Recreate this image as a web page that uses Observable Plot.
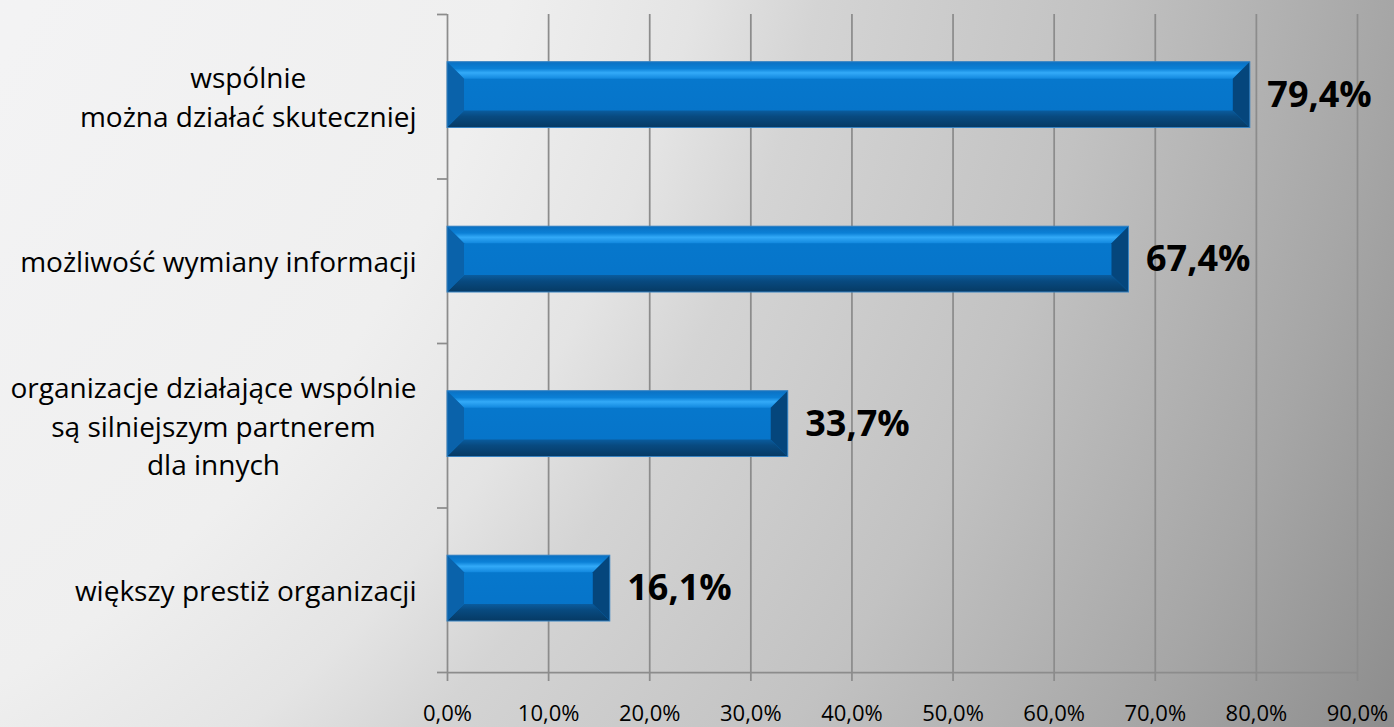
<!DOCTYPE html>
<html>
<head>
<meta charset="utf-8">
<script src="https://cdn.jsdelivr.net/npm/d3@7"></script>
<script src="https://cdn.jsdelivr.net/npm/@observablehq/plot@0.6"></script>
<style>
  html, body { margin: 0; padding: 0; overflow: hidden; }
  body {
    width: 1394px; height: 727px;
    background: radial-gradient(circle at -600px -300px, #f4f4f6 0px, #f3f3f4 700px, #efefef 1150px, #e4e4e4 1330px, #d4d4d4 1450px, #c2c2c2 1730px, #a6a6a6 2016px, #8c8c8c 2250px);
  }
  #chart svg { display: block; }
</style>
</head>
<body>
<div id="chart"></div>
<script>
const categories = [
  "wspólnie\nmożna działać skuteczniej",
  "możliwość wymiany informacji",
  "organizacje działające wspólnie\nsą silniejszym partnerem\ndla innych",
  "większy prestiż organizacji"
];
const values = [79.4, 67.4, 33.7, 16.1];
const xTicks = [0, 10, 20, 30, 40, 50, 60, 70, 80, 90];
const xTickLabels = ["0,0%", "10,0%", "20,0%", "30,0%", "40,0%", "50,0%", "60,0%", "70,0%", "80,0%", "90,0%"];
const bandEdges = [0, 1, 2, 3, 4];

const data = categories.map((c, i) => ({category: c, value: values[i], index: i}));
const fmt = v => v.toFixed(1).replace(".", ",") + "%";
const gridColor = "#8c8c8c";

const chart = Plot.plot({
  width: 1394,
  height: 727,
  marginLeft: 447,
  marginRight: 37,
  marginTop: 14,
  marginBottom: 55,
  style: {background: "transparent", fontFamily: "'Open Sans', sans-serif", overflow: "visible"},
  x: {type: "linear", domain: [0, 90]},
  y: {type: "linear", domain: [0, 4], reverse: true},
  marks: [
    Plot.ruleX(xTicks, {x: d => d, stroke: gridColor, strokeWidth: 1.75}),
    Plot.ruleY([4], {y: d => d, stroke: gridColor, strokeWidth: 1.75}),
    Plot.axisX({ticks: xTicks, tickFormat: d => xTickLabels[xTicks.indexOf(d)], tickSize: 9, tickPadding: 24,
      fontSize: 22, stroke: gridColor, strokeWidth: 1.75, fill: "#000", label: null}),
    Plot.axisY({ticks: bandEdges, tickFormat: () => "", tickSize: 10, stroke: gridColor, strokeWidth: 1.75, label: null}),
    Plot.rect(data, {x1: d => 0, x2: "value", y1: d => d.index + 0.29, y2: d => d.index + 0.69, fill: "#0677cc"}),
    Plot.text(data, {x: "value", y: d => d.index + 0.49, text: d => fmt(d.value), textAnchor: "start", dx: 17,
      fontSize: 36, fontWeight: "bold", fill: "#000"}),
    Plot.text(data, {frameAnchor: "left", y: d => d.index + 0.49, text: "category", textAnchor: "end", lineAnchor: "middle",
      dx: -31, fontSize: 28, lineHeight: 1.39, fill: "#000"})
  ]
});
document.getElementById("chart").appendChild(chart);

// --- bevel decoration built from the rendered bars ---
const ns = "http://www.w3.org/2000/svg";
const defs = document.createElementNS(ns, "defs");
function grad(id, stops) {
  const g = document.createElementNS(ns, "linearGradient");
  g.setAttribute("id", id);
  g.setAttribute("x1", "0"); g.setAttribute("y1", "0"); g.setAttribute("x2", "0"); g.setAttribute("y2", "1");
  stops.forEach(([o, c]) => {
    const s = document.createElementNS(ns, "stop");
    s.setAttribute("offset", o); s.setAttribute("stop-color", c);
    g.appendChild(s);
  });
  defs.appendChild(g);
}
grad("bvTop", [[0, "#0a70c2"], [0.4, "#0b80d6"], [0.65, "#33aaf8"], [1, "#1288de"]]);
grad("bvBottom", [[0, "#0a5c9e"], [0.35, "#084a80"], [1, "#063a64"]]);
grad("bvFace", [[0, "#0679ce"], [1, "#0673c8"]]);
chart.insertBefore(defs, chart.firstChild);

const barGroup = chart.querySelector('g[aria-label="rect"]');
if (barGroup) {
  barGroup.querySelectorAll("rect").forEach(r => {
    const x = +r.getAttribute("x"), y = +r.getAttribute("y");
    const w = +r.getAttribute("width"), h = +r.getAttribute("height");
    const b = 17;
    r.setAttribute("fill", "url(#bvFace)");
    const poly = (pts, fill) => {
      const p = document.createElementNS(ns, "polygon");
      p.setAttribute("points", pts.map(q => q.join(",")).join(" "));
      p.setAttribute("fill", fill);
      barGroup.appendChild(p);
    };
    poly([[x, y], [x + w, y], [x + w - b, y + b], [x + b, y + b]], "url(#bvTop)");
    poly([[x, y + h], [x + w, y + h], [x + w - b, y + h - b], [x + b, y + h - b]], "url(#bvBottom)");
    poly([[x, y], [x + b, y + b], [x + b, y + h - b], [x, y + h]], "#0a62aa");
    poly([[x + w, y], [x + w - b, y + b], [x + w - b, y + h - b], [x + w, y + h]], "#05467c");
    const o = document.createElementNS(ns, "rect");
    o.setAttribute("x", x); o.setAttribute("y", y); o.setAttribute("width", w); o.setAttribute("height", h);
    o.setAttribute("fill", "none"); o.setAttribute("stroke", "#3a84c2"); o.setAttribute("stroke-width", "1");
    barGroup.appendChild(o);
  });
}

// center multi-line category labels (Excel style)
const textGroups = chart.querySelectorAll('g[aria-label="text"]');
const catGroup = textGroups[textGroups.length - 1];
if (catGroup) {
  catGroup.querySelectorAll("text").forEach(t => {
    const spans = t.querySelectorAll("tspan");
    if (spans.length > 1) {
      const bb = t.getBBox();
      t.setAttribute("text-anchor", "middle");
      spans.forEach(s => s.setAttribute("x", bb.x + bb.width / 2));
    }
  });
}
</script>
</body>
</html>
